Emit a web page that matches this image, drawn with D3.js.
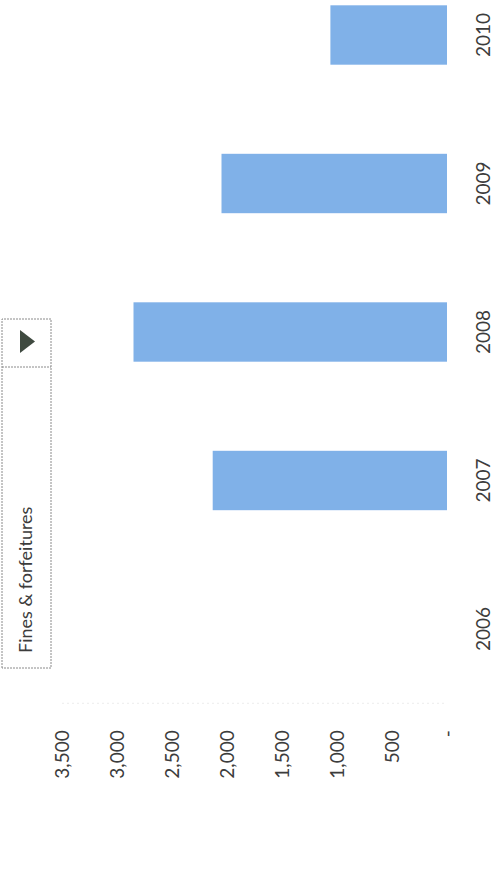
<!DOCTYPE html>
<html>
<head>
<meta charset="utf-8">
<script src="https://cdn.jsdelivr.net/npm/d3@7"></script>
<style>
  html, body { margin: 0; padding: 0; background: #ffffff; }
  svg { display: block; }
  text { font-family: Lato, "Open Sans", sans-serif; fill: #3c3c3c; }
</style>
</head>
<body>
<svg id="chart" width="494" height="891"></svg>
<script>
// ---- data ----
const categories = ["2006", "2007", "2008", "2009", "2010"];
const values = [0, 2130, 2850, 2050, 1060];
const valueTicks = [0, 500, 1000, 1500, 2000, 2500, 3000, 3500];
const filterLabel = "Fines & forfeitures";

const W = 494, H = 891;
const svg = d3.select("#chart");

// chart is drawn in its own frame, then rotated -90deg onto the page
const g = svg.append("g").attr("transform", `translate(0,${H}) rotate(-90)`);

const x = d3.scaleBand().domain(categories)
  .range([187.75, 930.25]).paddingInner(0.6).paddingOuter(0.3);
const y = d3.scaleLinear().domain([0, 3500]).range([447, 62]);

// faint plot-area edge
g.append("line")
  .attr("x1", 187.75).attr("x2", 187.75)
  .attr("y1", y(3500)).attr("y2", y(0))
  .attr("stroke", "#ececec").attr("stroke-dasharray", "2,3");

// bars
g.selectAll("rect.bar").data(categories)
  .join("rect").attr("class", "bar")
  .attr("x", d => x(d))
  .attr("width", x.bandwidth())
  .attr("y", (d, i) => y(values[i]))
  .attr("height", (d, i) => y(0) - y(values[i]))
  .attr("fill", "#80b1e8");

// value axis
const fmt = d3.format(",");
const yAxis = d3.axisLeft(y).tickValues(valueTicks)
  .tickSize(0).tickPadding(27)
  .tickFormat(v => v === 0 ? "-" : fmt(v));
const ya = g.append("g").attr("transform", "translate(187.75,0)").call(yAxis);
ya.select(".domain").remove();
ya.selectAll("text").attr("font-size", 19).attr("font-family", "Lato").attr("fill", "#3c3c3c");

// category axis
const xAxis = d3.axisBottom(x).tickSize(0).tickPadding(30);
const xa = g.append("g").attr("transform", `translate(0,${y(0)})`).call(xAxis);
xa.select(".domain").remove();
xa.selectAll("text").attr("font-size", 19).attr("font-family", "Lato").attr("fill", "#3c3c3c");

// filter drop-down
const fb = g.append("g");
fb.append("rect").attr("x", 223).attr("y", 2).attr("width", 349).attr("height", 49)
  .attr("fill", "none").attr("stroke", "#8a8a8a").attr("stroke-dasharray", "2,1");
fb.append("line").attr("x1", 524).attr("x2", 524).attr("y1", 2).attr("y2", 51)
  .attr("stroke", "#8a8a8a").attr("stroke-dasharray", "2,1");
fb.append("path").attr("d", "M538,20 L561,20 L549.5,35 Z").attr("fill", "#3f4a40");
fb.append("text").attr("x", 238).attr("y", 32)
  .attr("font-size", 18).text(filterLabel);
</script>
</body>
</html>
